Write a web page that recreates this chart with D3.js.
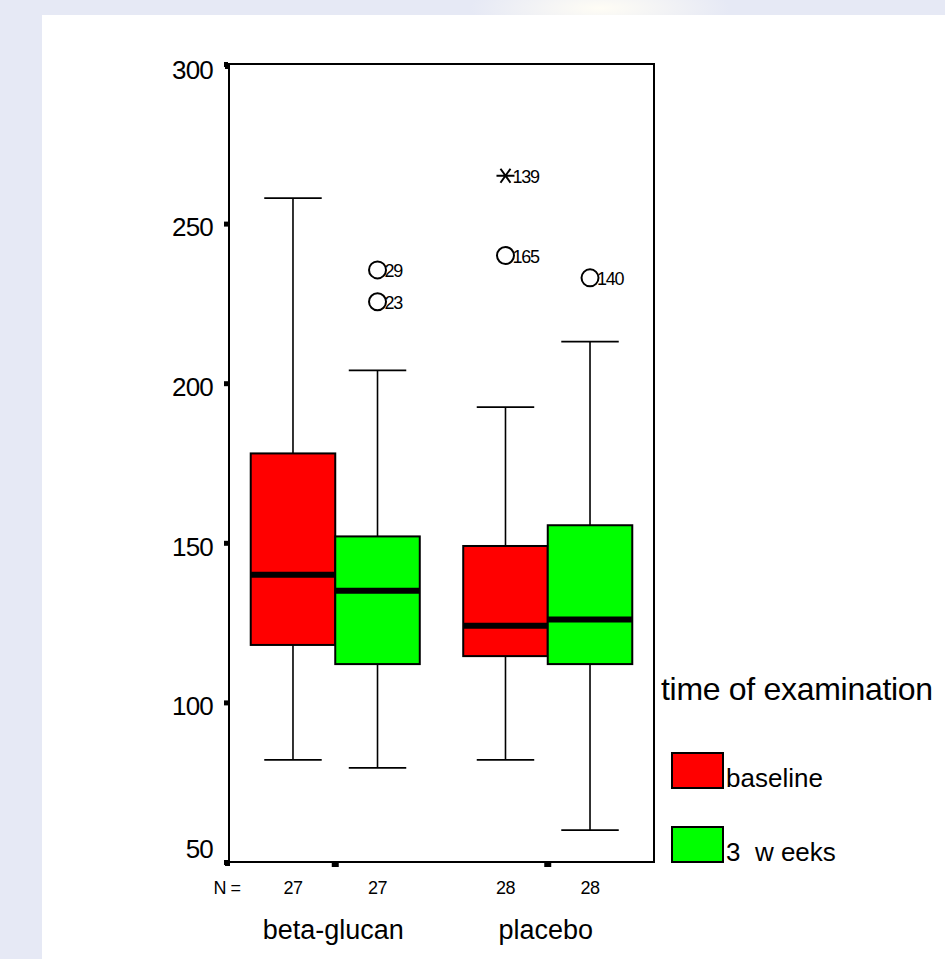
<!DOCTYPE html>
<html><head><meta charset="utf-8">
<script src="https://cdn.jsdelivr.net/npm/d3@7"></script>
<style>
html,body{margin:0;padding:0;background:#e6e9f5;}
svg{display:block;font-family:"Liberation Sans",Arial,sans-serif;}
</style></head><body>
<svg id="c" width="945" height="959"></svg>
<script>
const groups = ["beta-glucan","placebo"];
const times = ["baseline","3 weeks"];
const timeLabels = ["baseline","3  w eeks"];
const yTicks = [50,100,150,200,250,300];
const nCounts = [[27,27],[28,28]];
// [whiskerLow, q1, median, q3, whiskerHigh] per group, per time
const betaBaseline = [82,118,140,178,258];
const beta3weeks   = [79.5,112,135,152,204];
const placBaseline = [82,114.5,124,149,192.5];
const plac3weeks   = [60,112,126,155.5,213];
const outliers = [
  {g:"beta-glucan", t:"3 weeks", v:235.5, id:"29", type:"o"},
  {g:"beta-glucan", t:"3 weeks", v:225.5, id:"23", type:"o"},
  {g:"placebo", t:"baseline", v:265, id:"139", type:"*"},
  {g:"placebo", t:"baseline", v:240, id:"165", type:"o"},
  {g:"placebo", t:"3 weeks", v:233, id:"140", type:"o"}
];
const colors = {"baseline":"#ff0000","3 weeks":"#00ff00"};

const boxes = [
  {g:"beta-glucan",t:"baseline",s:betaBaseline},
  {g:"beta-glucan",t:"3 weeks",s:beta3weeks},
  {g:"placebo",t:"baseline",s:placBaseline},
  {g:"placebo",t:"3 weeks",s:plac3weeks}
];

const svg = d3.select("#c");
// background
const defs = svg.append("defs");
const rg = defs.append("radialGradient").attr("id","glow").attr("cx","0.5").attr("cy","0.5").attr("r","0.5");
rg.append("stop").attr("offset","0").attr("stop-color","#fffdf5");
rg.append("stop").attr("offset","1").attr("stop-color","#e6e9f5");
svg.append("rect").attr("width",945).attr("height",959).attr("fill","#e6e9f5");
svg.append("ellipse").attr("cx",600).attr("cy",8).attr("rx",130).attr("ry",30).attr("fill","url(#glow)");
svg.append("rect").attr("x",42).attr("y",15).attr("width",903).attr("height",944).attr("fill","#fff");

const pL=229, pR=654, pT=64, pB=862;
const y = d3.scaleLinear().domain([50,300]).range([pB,pT]);
const x = d3.scaleBand().domain(groups).range([pL,pR]).padding(0);
const xs = d3.scaleBand().domain(times).range([0,x.bandwidth()]).paddingInner(0).paddingOuter(0.257);
const bw = xs.bandwidth();

// y axis
const ya = svg.append("g").attr("transform",`translate(${pL},0)`)
  .call(d3.axisLeft(y).tickValues(yTicks).tickSize(4).tickPadding(12).tickSizeOuter(0));
ya.select(".domain").remove();
ya.selectAll(".tick line").attr("stroke","#000").attr("stroke-width",5).attr("transform","translate(-1,0)");
const nT = yTicks.length;
ya.selectAll(".tick text").attr("font-size",26).attr("fill","#000")
  .attr("dy",(d,i)=> i===0 ? "-0.16em" : (i===nT-1 ? "0.57em" : "0.47em"))
  .attr("font-family","Liberation Sans, Arial, sans-serif").attr("letter-spacing",-0.8);

// x axis ticks
const xa = svg.append("g").attr("transform",`translate(0,${pB})`)
  .call(d3.axisBottom(x).tickSize(5).tickSizeOuter(0));
xa.select(".domain").remove();
xa.selectAll(".tick text").remove();
xa.selectAll(".tick line").attr("stroke","#000").attr("stroke-width",7);
svg.append("rect").attr("x",pL-4).attr("y",pB-1).attr("width",5).attr("height",5).attr("fill","#000");
svg.append("rect").attr("x",pL-4).attr("y",pT-1).attr("width",5).attr("height",6).attr("fill","#000");

// frame
svg.append("rect").attr("x",pL).attr("y",pT).attr("width",pR-pL).attr("height",pB-pT)
  .attr("fill","none").attr("stroke","#000").attr("stroke-width",2);

// boxes
const bx = d => x(d.g)+xs(d.t);
const gB = svg.append("g");
boxes.forEach(d=>{
  const x0=bx(d), cx=x0+bw/2, cap=bw*0.34;
  const [lo,q1,md,q3,hi]=d.s;
  gB.append("line").attr("x1",cx).attr("x2",cx).attr("y1",y(hi)).attr("y2",y(q3)).attr("stroke","#000").attr("stroke-width",1.6);
  gB.append("line").attr("x1",cx).attr("x2",cx).attr("y1",y(q1)).attr("y2",y(lo)).attr("stroke","#000").attr("stroke-width",1.6);
  gB.append("line").attr("x1",cx-cap).attr("x2",cx+cap).attr("y1",y(hi)).attr("y2",y(hi)).attr("stroke","#000").attr("stroke-width",1.8);
  gB.append("line").attr("x1",cx-cap).attr("x2",cx+cap).attr("y1",y(lo)).attr("y2",y(lo)).attr("stroke","#000").attr("stroke-width",1.8);
  gB.append("rect").attr("x",x0).attr("y",y(q3)).attr("width",bw).attr("height",y(q1)-y(q3))
    .attr("fill",colors[d.t]).attr("stroke","#000").attr("stroke-width",2);
  gB.append("line").attr("x1",x0).attr("x2",x0+bw).attr("y1",y(md)).attr("y2",y(md)).attr("stroke","#000").attr("stroke-width",6);
});

// outliers
outliers.forEach(o=>{
  const cx=x(o.g)+xs(o.t)+bw/2, cy=y(o.v);
  if(o.type==="o"){
    svg.append("circle").attr("cx",cx).attr("cy",cy).attr("r",8.5).attr("fill","none").attr("stroke","#000").attr("stroke-width",2);
  } else {
    const p=d3.path();
    p.moveTo(cx-9,cy); p.lineTo(cx+9,cy);
    p.moveTo(cx-5,cy-7); p.lineTo(cx+5,cy+7);
    p.moveTo(cx+5,cy-7); p.lineTo(cx-5,cy+7);
    svg.append("path").attr("d",p.toString()).attr("stroke","#000").attr("stroke-width",2).attr("fill","none");
  }
  svg.append("text").attr("x",cx+7).attr("y",cy+7).attr("font-size",18).attr("letter-spacing",-1.2).text(o.id);
});

// N labels
svg.append("text").attr("x",227).attr("y",894).attr("text-anchor","middle").attr("font-size",18).attr("letter-spacing",-0.5).text("N =");
groups.forEach((g,i)=>{
  times.forEach((t,j)=>{
    svg.append("text").attr("x",x(g)+xs(t)+bw/2).attr("y",894).attr("text-anchor","middle").attr("font-size",18).attr("letter-spacing",-0.5).text(nCounts[i][j]);
  });
  svg.append("text").attr("x",x(g)+x.bandwidth()/2-2).attr("y",939).attr("text-anchor","middle").attr("font-size",27).text(g);
});

// legend
svg.append("text").attr("x",661).attr("y",700).attr("font-size",32).attr("letter-spacing",-0.3).text("time of examination");
times.forEach((t,i)=>{
  const yy = 753 + i*74;
  svg.append("rect").attr("x",672).attr("y",yy).attr("width",51).attr("height",35).attr("fill",colors[t]).attr("stroke","#000").attr("stroke-width",2);
  svg.append("text").attr("x",726).attr("y",yy+34).attr("font-size",26).attr("xml:space","preserve").style("white-space","pre").text(timeLabels[i]);
});
</script>
</body></html>
